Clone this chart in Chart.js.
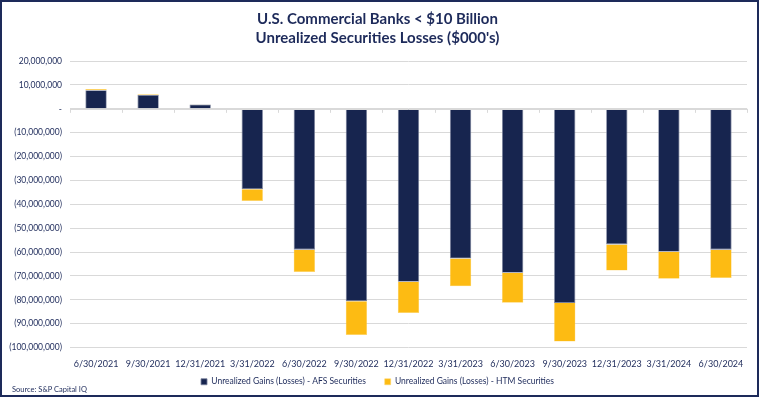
<!DOCTYPE html>
<html>
<head>
<meta charset="utf-8">
<script src="https://cdn.jsdelivr.net/npm/chart.js@4.4.1/dist/chart.umd.min.js"></script>
<style>
  html, body { margin: 0; padding: 0; background: #fff; }
  #wrap { position: relative; width: 759px; height: 397px; overflow: hidden; }
  #c { position: absolute; left: 0; top: 0; }
  #frame { position: absolute; left: 0; top: 0; width: 759px; height: 397px; box-sizing: border-box; border: 2px solid #1d2a5a; pointer-events: none; }
  #source { position: absolute; left: 12px; top: 385px; font: 7.5px Lato, sans-serif; line-height: 10px; color: #1d2a5a; white-space: nowrap; }
</style>
</head>
<body>
<div id="wrap">
  <canvas id="c" width="759" height="397"></canvas>
  <div id="frame"></div>
  <div id="source">Source: S&amp;P Capital IQ</div>
</div>
<script>
const categories = ['6/30/2021','9/30/2021','12/31/2021','3/31/2022','6/30/2022','9/30/2022','12/31/2022','3/31/2023','6/30/2023','9/30/2023','12/31/2023','3/31/2024','6/30/2024'];
const afsValues = [7800000, 5750000, 1800000, -33700000, -59000000, -80600000, -72500000, -62700000, -68700000, -81400000, -56800000, -59900000, -59000000];
const htmValues = [550000, 400000, 100000, -4900000, -9400000, -14200000, -13000000, -11600000, -12600000, -16100000, -10900000, -11300000, -11900000];
const seriesNames = ['Unrealized Gains (Losses) - AFS Securities', 'Unrealized Gains (Losses) - HTM Securities'];
const titleLines = ['U.S. Commercial Banks < $10 Billion', "Unrealized Securities Losses ($000's)"];
const yMin = -100000000, yMax = 20000000, yStep = 10000000;

const NAVY = '#17254f';
const GOLD = '#fdbb13';
const FONT = "Lato, sans-serif";

function fmt(v) {
  if (v === 0) return '-';
  const s = Math.abs(v).toLocaleString('en-US');
  return v < 0 ? '(' + s + ')' : s;
}

const zeroTicks = {
  id: 'zeroTicks',
  afterDatasetsDraw(chart) {
    const x = chart.scales.x, y = chart.scales.y, ctx = chart.ctx;
    const y0 = y.getPixelForValue(0);
    ctx.save();
    ctx.strokeStyle = '#d9d9d9';
    ctx.lineWidth = 1;
    ctx.beginPath();
    ctx.moveTo(chart.chartArea.left, Math.round(y0) + 0.5);
    ctx.lineTo(chart.chartArea.right, Math.round(y0) + 0.5);
    const n = categories.length;
    for (let i = 0; i <= n; i++) {
      let px;
      if (i === 0) px = chart.chartArea.left;
      else if (i === n) px = chart.chartArea.right;
      else px = (x.getPixelForValue(i - 1) + x.getPixelForValue(i)) / 2;
      px = Math.round(px) + 0.5;
      ctx.moveTo(px, y0);
      ctx.lineTo(px, y0 + 4);
    }
    ctx.stroke();
    ctx.restore();
  }
};

new Chart(document.getElementById('c'), {
  type: 'bar',
  data: {
    labels: categories,
    datasets: [
      { label: seriesNames[0], data: afsValues, backgroundColor: NAVY, borderColor: '#7a829c', borderWidth: 0.8, stack: 's' },
      { label: seriesNames[1], data: htmValues, backgroundColor: GOLD, borderColor: '#fdd46a', borderWidth: 0.5, stack: 's' }
    ]
  },
  options: {
    responsive: false,
    animation: false,
    devicePixelRatio: 1,
    layout: { padding: { left: 8, right: 12, top: 0, bottom: 1 } },
    datasets: { bar: { barPercentage: 0.41, categoryPercentage: 1.0 } },
    plugins: {
      title: {
        display: true,
        text: titleLines,
        color: '#1d2a5a',
        font: { family: FONT, size: 15, weight: 'bold', lineHeight: 1.27 },
        padding: { top: 10, bottom: 13 }
      },
      legend: {
        position: 'bottom',
        labels: {
          color: '#1d2a5a',
          font: { family: FONT, size: 8.5 },
          boxWidth: 6, boxHeight: 6,
          padding: 6,
          generateLabels(chart) {
            const items = Chart.defaults.plugins.legend.labels.generateLabels(chart);
            if (items.length > 1) items[0].text = items[0].text + '\u2003\u2003';
            return items;
          }
        }
      },
      tooltip: { enabled: false }
    },
    scales: {
      x: {
        stacked: true,
        grid: { display: false, drawTicks: false },
        border: { display: false },
        ticks: { color: '#1d2a5a', font: { family: FONT, size: 9 }, padding: 11, maxRotation: 0, autoSkip: false },
        afterFit(s) { s.height = 24; }
      },
      y: {
        stacked: true,
        min: yMin, max: yMax,
        grid: { color: '#d9d9d9', lineWidth: 1, drawTicks: false },
        border: { display: false },
        ticks: { stepSize: yStep, color: '#1d2a5a', font: { family: FONT, size: 8.5 }, padding: 8, callback: (v) => fmt(v) },
        afterFit(s) { s.width = 62; }
      }
    }
  },
  plugins: [zeroTicks]
});
</script>
</body>
</html>
